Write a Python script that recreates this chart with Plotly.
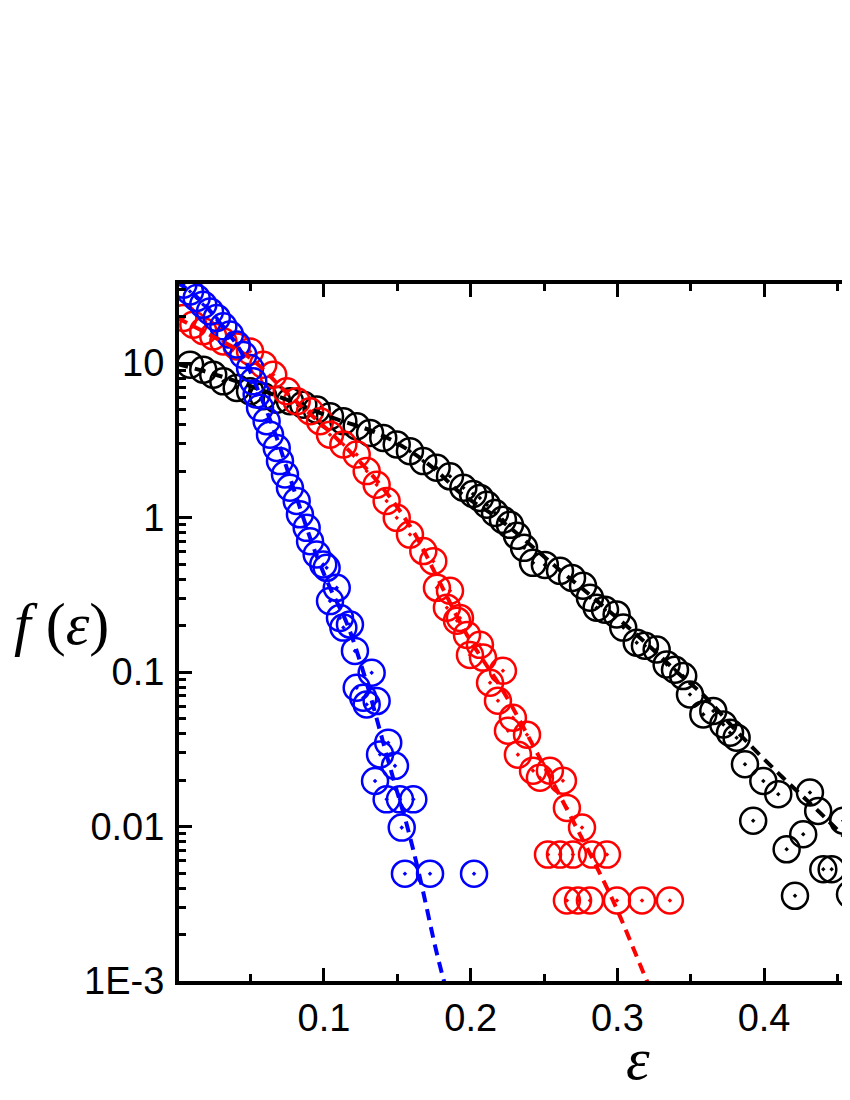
import plotly.graph_objects as go

black_x = [0.0087, 0.0177, 0.0245, 0.0314, 0.0405, 0.0496, 0.0586, 0.0678, 0.0768, 0.0859,
           0.0950, 0.1041, 0.1132, 0.1223, 0.1314, 0.1404, 0.1496, 0.1586, 0.1677, 0.1768,
           0.1859, 0.1950, 0.2016, 0.2063, 0.2111, 0.2166, 0.2220, 0.2268, 0.2316, 0.2364,
           0.2425, 0.2506, 0.2609, 0.2691, 0.2766, 0.2813, 0.2859, 0.2916, 0.2995, 0.3040,
           0.3132, 0.3188, 0.3268, 0.3336, 0.3393, 0.3449, 0.3495, 0.3586, 0.3654, 0.3722,
           0.3768, 0.3813, 0.3870, 0.3926, 0.3995, 0.4097, 0.4154, 0.4211, 0.4267, 0.4313,
           0.4369, 0.4404, 0.4461, 0.4540, 0.4586]
black_y = [9.77, 9.06, 8.41, 7.62, 6.90, 6.57, 6.10, 5.80, 5.66, 5.38,
           5.00, 4.53, 4.20, 3.90, 3.53, 3.28, 2.97, 2.69, 2.32, 2.10,
           1.85, 1.56, 1.42, 1.34, 1.21, 1.07, 0.967, 0.897, 0.762, 0.637,
           0.509, 0.494, 0.452, 0.407, 0.362, 0.303, 0.261, 0.253, 0.236, 0.194,
           0.155, 0.148, 0.140, 0.112, 0.1035, 0.0942, 0.0716, 0.0532, 0.0560, 0.0458,
           0.0405, 0.0376, 0.0253, 0.0109, 0.0197, 0.0162, 0.00712, 0.00356, 0.00891, 0.0166,
           0.0126, 0.00529, 0.00529, 0.0109, 0.00364]

red_x = [0.0041, 0.0109, 0.0177, 0.0245, 0.0314, 0.0405, 0.0496, 0.0586, 0.0654, 0.0746,
         0.0814, 0.0905, 0.0973, 0.1041, 0.1132, 0.1223, 0.1291, 0.1359, 0.1427, 0.1496,
         0.1586, 0.1677, 0.1745, 0.1770, 0.1859, 0.1838, 0.1927, 0.1907, 0.1975, 0.1995,
         0.2063, 0.2084, 0.2220, 0.2132, 0.2186, 0.2288, 0.2254, 0.2384, 0.2322, 0.2425,
         0.2472, 0.2540, 0.2629, 0.2656, 0.2759, 0.2527, 0.2609, 0.2697, 0.2827, 0.2929,
         0.2656, 0.2732, 0.2813, 0.2997, 0.3168, 0.3358]
red_y = [19.6, 17.7, 16.1, 14.9, 13.8, 12.8, 11.9, 9.77, 8.41, 6.57,
         5.66, 4.88, 4.20, 3.44, 2.97, 2.56, 2.00, 1.63, 1.28, 0.996,
         0.776, 0.607, 0.522, 0.351, 0.336, 0.261, 0.224, 0.215, 0.174, 0.129,
         0.150, 0.124, 0.102, 0.0853, 0.0652, 0.0506, 0.0417, 0.0393, 0.0292, 0.0230,
         0.0207, 0.0230, 0.0198, 0.0132, 0.00984, 0.00658, 0.00658, 0.00658, 0.00658, 0.00658,
         0.00332, 0.00332, 0.00332, 0.00332, 0.00332, 0.00332]

blue_x = [0.0041, 0.0087, 0.0132, 0.0177, 0.0223, 0.0269, 0.0314, 0.0359, 0.0405, 0.0450,
          0.0496, 0.0518, 0.0541, 0.0564, 0.0609, 0.0632, 0.0678, 0.0700, 0.0734, 0.0768,
          0.0814, 0.0836, 0.0882, 0.0905, 0.0950, 0.0995, 0.1018, 0.1087, 0.1041, 0.1109,
          0.1177, 0.1132, 0.1211, 0.1325, 0.1223, 0.1268, 0.1359, 0.1291, 0.1438, 0.1382,
          0.1484, 0.1348, 0.1427, 0.1518, 0.1609, 0.1530, 0.1552, 0.1723, 0.2023]
blue_y = [32.2, 29.1, 26.4, 23.9, 21.6, 19.6, 17.3, 15.3, 13.2, 11.3,
          9.29, 7.62, 6.25, 5.13, 4.20, 3.44, 2.82, 2.32, 1.90, 1.56,
          1.28, 1.05, 0.858, 0.703, 0.577, 0.497, 0.473, 0.351, 0.288, 0.224,
          0.203, 0.194, 0.137, 0.0989, 0.0791, 0.0682, 0.0649, 0.0617, 0.0349, 0.0293,
          0.0247, 0.0197, 0.0150, 0.0150, 0.0150, 0.00984, 0.00495, 0.00495, 0.00495]

# dashed fit curves
fit_black_x = [0.0, 0.0223, 0.0496, 0.0768, 0.1061, 0.1361, 0.1586, 0.1770, 0.1927, 0.2200,
               0.2589, 0.2861, 0.3154, 0.3427, 0.3584, 0.3836, 0.4129, 0.4381, 0.4586]
fit_black_y = [9.87, 8.63, 7.11, 5.69, 4.42, 3.53, 2.70, 2.00, 1.45, 0.967,
               0.473, 0.289, 0.167, 0.0961, 0.0713, 0.0393, 0.0207, 0.0123, 0.00787]

fit_red_x = [0.0, 0.0223, 0.0496, 0.0768, 0.1061, 0.1361, 0.1607, 0.1791, 0.1975, 0.2220,
             0.2459, 0.2697, 0.2970, 0.3202, 0.3256]
fit_red_y = [19.6, 15.2, 10.8, 6.12, 3.43, 1.73, 0.820, 0.378, 0.174, 0.0757,
             0.0292, 0.0109, 0.00332, 0.001, 0.00078]

fit_blue_x = [0.0, 0.0155, 0.0291, 0.0427, 0.0530, 0.0609, 0.0678, 0.0746, 0.0814, 0.0882,
              0.0950, 0.1041, 0.1155, 0.1245, 0.1314, 0.1404, 0.1484, 0.1564, 0.1654, 0.1763,
              0.1818, 0.1859]
fit_blue_y = [33.5, 25.6, 18.2, 12.2, 7.43, 4.90, 3.28, 2.10, 1.34, 0.858,
              0.565, 0.351, 0.208, 0.118, 0.0713, 0.0349, 0.0187, 0.0103, 0.00467, 0.00160,
              0.001, 0.000726]

y_tickvals = [0.001, 0.01, 0.1, 1, 10]
y_ticktext = ["1E-3", "0.01", "0.1", "1", "10"]
x_tickvals = [0.1, 0.2, 0.3, 0.4]
x_ticktext = ["0.1", "0.2", "0.3", "0.4"]

fig = go.Figure()

for xs, ys, col in [(black_x, black_y, "#000000"), (red_x, red_y, "#ff0000"), (blue_x, blue_y, "#0000ff")]:
    fig.add_trace(go.Scatter(x=xs, y=ys, mode="markers",
                             marker=dict(symbol="circle-open-dot", size=26, color=col,
                                         line=dict(width=2.5, color=col)),
                             showlegend=False))

for xs, ys, col in [(fit_black_x, fit_black_y, "#000000"), (fit_red_x, fit_red_y, "#ff0000"), (fit_blue_x, fit_blue_y, "#0000ff")]:
    fig.add_trace(go.Scatter(x=xs, y=ys, mode="lines", line_shape="spline",
                             line=dict(color=col, width=4, dash="11px,7px"),
                             showlegend=False))

minor_y = [m * 10 ** e for e in range(-3, 2) for m in range(2, 10)]

fig.update_xaxes(range=[0.00116, 0.4586], showline=True, linewidth=4, linecolor="black",
                 mirror="allticks", ticks="inside", ticklen=13, tickwidth=3, tickcolor="black",
                 tickvals=x_tickvals, ticktext=x_ticktext, showgrid=False, zeroline=False,
                 tickfont=dict(family="Liberation Sans, Arial", size=38, color="black"),
                 minor=dict(tickvals=[0.05, 0.15, 0.25, 0.35, 0.45], ticks="inside",
                            ticklen=7, tickwidth=3, tickcolor="black", showgrid=False))
fig.update_yaxes(type="log", range=[-3, 1.512], showline=True, linewidth=4, linecolor="black",
                 mirror=False, ticks="inside", ticklen=13, tickwidth=3, tickcolor="black",
                 tickvals=y_tickvals, ticktext=y_ticktext, showgrid=False, zeroline=False,
                 ticklabelstandoff=3,
                 tickfont=dict(family="Liberation Sans, Arial", size=38, color="black"),
                 minor=dict(tickvals=minor_y, ticks="inside", ticklen=7, tickwidth=3,
                            tickcolor="black", showgrid=False))

# page body adds an 8px margin, so the figure is 842x1092
fig.update_layout(
    width=842, height=1092,
    margin=dict(l=171, r=0, t=276, b=118.5),
    plot_bgcolor="white", paper_bgcolor="white",
    annotations=[
        dict(text="<i>f</i> (<i>ε</i>)", xref="paper", yref="paper", x=-0.1744, y=0.5125,
             xanchor="center", yanchor="middle", showarrow=False,
             font=dict(family="Liberation Serif, Times New Roman", size=60, color="black")),
        dict(text="<i>ε</i>", xref="paper", yref="paper", x=0.684, y=-0.1125,
             xanchor="center", yanchor="middle", showarrow=False,
             font=dict(family="Liberation Serif, Times New Roman", size=60, color="black")),
    ],
)

fig.write_html("out.html")
